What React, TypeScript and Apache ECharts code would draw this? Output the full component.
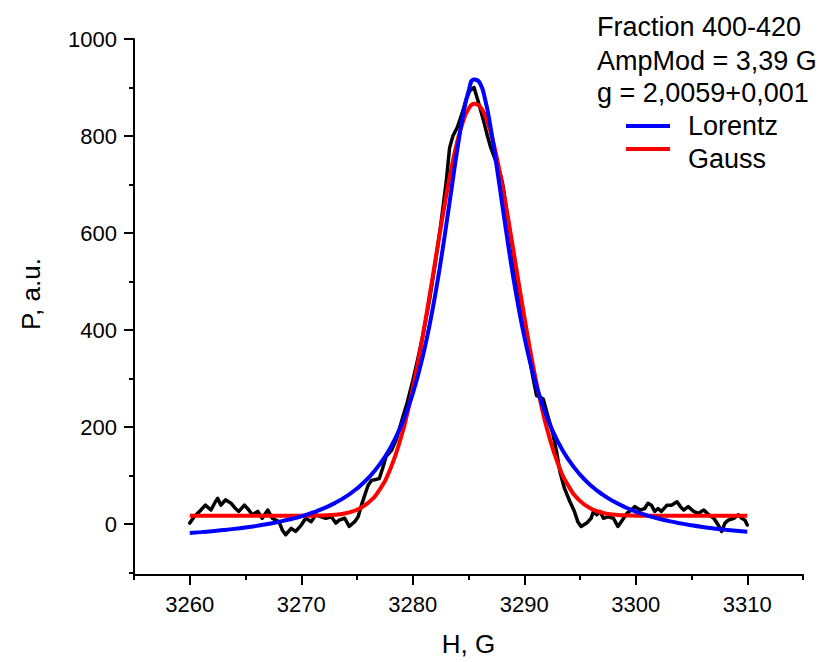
import React, { useEffect, useRef } from 'react';
import * as echarts from 'echarts';

// Experimental spectrum (black)
const dataH = [
  3260.0, 3260.4, 3261.0, 3261.4, 3261.9, 3262.3, 3262.5, 3262.8, 3263.2, 3263.7,
  3264.1, 3264.4, 3264.9, 3265.3, 3265.6, 3266.1, 3266.5, 3267.0, 3267.4, 3268.0,
  3268.3, 3268.6, 3269.1, 3269.5, 3270.0, 3270.4, 3270.9, 3271.3, 3271.8, 3272.2,
  3272.7, 3273.1, 3273.4, 3273.9, 3274.3, 3274.8, 3275.1, 3275.4, 3275.7, 3276.0,
  3276.3, 3276.7, 3277.0, 3277.3, 3277.6, 3278.1, 3278.5, 3279.0, 3279.5, 3280.0,
  3280.5, 3281.0, 3281.5, 3282.0, 3282.5, 3283.0, 3283.3, 3283.6, 3284.0, 3284.4,
  3284.8, 3285.1, 3285.5, 3286.0, 3286.4, 3286.7, 3287.0, 3287.5, 3287.9, 3288.1,
  3288.4, 3288.8, 3289.2, 3289.6, 3290.0, 3290.4, 3290.8, 3291.1, 3291.4, 3291.7,
  3292.1, 3292.6, 3292.9, 3293.2, 3293.6, 3294.1, 3294.5, 3294.8, 3295.1, 3295.6,
  3296.0, 3296.2, 3296.5, 3296.8, 3297.1, 3297.5, 3298.0, 3298.4, 3298.7, 3299.2,
  3299.6, 3299.9, 3300.4, 3300.8, 3301.1, 3301.4, 3301.7, 3302.0, 3302.3, 3302.8,
  3303.2, 3303.7, 3304.0, 3304.3, 3304.7, 3305.2, 3305.6, 3306.1, 3306.5, 3307.0,
  3307.4, 3307.7, 3308.0, 3308.3, 3308.8, 3309.2, 3309.5, 3309.8, 3310.0,
];
const dataP = [
  2, 15, 29, 39, 29, 46, 53, 39, 50, 43,
  32, 26, 39, 29, 19, 26, 12, 29, 12, 5,
  -12, -22, -9, -15, -2, 12, 5, 19, 15, 12,
  15, 2, 8, 12, -5, 5, 15, 39, 60, 80,
  90, 92, 94, 115, 139, 152, 173, 212, 250, 295,
  345, 400, 462, 535, 615, 705, 775, 800, 818, 845,
  875, 893, 900, 861, 827, 800, 776, 745, 718, 697,
  649, 590, 525, 465, 405, 350, 300, 265, 262, 258,
  224, 183, 149, 108, 74, 46, 26, 5, -5, 2,
  12, 26, 19, 26, 12, 15, 12, -5, 5, 22,
  29, 36, 29, 32, 43, 39, 26, 32, 26, 39,
  39, 46, 36, 29, 36, 26, 22, 29, 20, 12,
  -2, -15, 2, 8, 12, 19, 12, 8, -2,
];

// Fitted curves
const fitH = [
  3260, 3261, 3262, 3263, 3264, 3265, 3266, 3267, 3268, 3269,
  3270, 3271, 3272, 3273, 3274, 3275, 3276, 3277, 3278, 3279,
  3279.5, 3280, 3280.5, 3281, 3281.5, 3282, 3282.5, 3283, 3283.5, 3284,
  3284.5, 3285, 3285.5, 3286, 3286.5, 3287, 3287.5, 3288, 3288.5, 3289,
  3289.5, 3290, 3290.5, 3291, 3291.5, 3292, 3293, 3294, 3295, 3296,
  3297, 3298, 3299, 3300, 3301, 3302, 3303, 3304, 3305, 3306,
  3307, 3308, 3309, 3310,
];
const lorentzP = [
  -18.4, -16.6, -14.6, -12.4, -9.9, -7.0, -3.7, 0.1, 4.6, 9.8,
  16.0, 23.4, 32.3, 43.2, 56.6, 73.3, 94.5, 121.9, 157.6, 205.2,
  234.7, 269.1, 309.1, 355.5, 409.3, 470.7, 539.8, 615.4, 694.7, 772.6,
  841.4, 892.1, 916.6, 910.3, 874.5, 815.5, 742.0, 662.8, 584.5, 511.3,
  445.2, 386.9, 336.2, 292.4, 254.8, 222.4, 170.5, 131.6, 102.0, 79.1,
  61.2, 46.9, 35.3, 25.9, 18.1, 11.6, 6.1, 1.4, -2.6, -6.1,
  -9.1, -11.7, -14.0, -16.0,
];
const gaussP = [
  17, 17, 17, 17, 17, 17, 17, 17, 17, 17,
  17, 17.3, 17.8, 19.2, 22.4, 29.5, 43.7, 70.0, 114.2, 182.7,
  227.4, 279.0, 337.2, 401.2, 469.3, 539.6, 609.5, 676.5, 737.4, 789.1,
  829.3, 855.6, 866.7, 861.9, 841.5, 806.7, 759.3, 701.8, 636.9, 567.8,
  497.2, 428.1, 362.2, 301.5, 247.2, 199.8, 125.9, 77.2, 47.9, 31.7,
  23.5, 19.6, 18.0, 17.4, 17, 17, 17, 17, 17, 17,
  17, 17, 17, 17,
];

const xMajorTicks = [3260, 3270, 3280, 3290, 3300, 3310];
const xMinorTicks = [3255, 3265, 3275, 3285, 3295, 3305, 3315];
const yMajorTicks = [0, 200, 400, 600, 800, 1000];
const yMinorTicks = [-100, 100, 300, 500, 700, 900];
const annotationLines = ['Fraction 400-420', 'AmpMod = 3,39 G', 'g = 2,0059+0,001'];
const legendNames = ['Lorentz', 'Gauss'];

export default function App() {
  const ref = useRef<HTMLDivElement>(null);
  useEffect(() => {
    const chart = echarts.init(ref.current!, null, { renderer: 'svg' });
    const fontFamily = '"Liberation Sans", Arial, sans-serif';
    const X_MIN = 3255, X_MAX = 3315, Y_MIN = -105, Y_MAX = 1000;
    const axisColor = '#000';
    const plain = (v: number) => String(v);

    const majorAxis = (extra: any) => ({
      type: 'value',
      axisLine: { show: true, onZero: false, lineStyle: { color: axisColor, width: 2 } },
      splitLine: { show: false },
      ...extra,
    });
    const minorAxis = (extra: any) => ({
      type: 'value',
      axisLine: { show: false, onZero: false },
      axisLabel: { show: false },
      splitLine: { show: false },
      ...extra,
    });

    const texts: any[] = annotationLines.map((t, i) => ({
      type: 'text',
      x: 597,
      y: [27, 60.5, 93][i],
      style: { text: t, font: `27px ${fontFamily}`, fill: '#000', verticalAlign: 'middle', align: 'left' },
    }));
    const legendColors = ['#0000ff', '#ff0000'];
    const legendLineY = [126, 149];
    const legendTextY = [126, 159];
    legendNames.forEach((n, i) => {
      texts.push({
        type: 'line',
        shape: { x1: 626, y1: legendLineY[i], x2: 670, y2: legendLineY[i] },
        style: { stroke: legendColors[i], lineWidth: 4 },
      });
      texts.push({
        type: 'text',
        x: 688,
        y: legendTextY[i],
        style: { text: n, font: `27px ${fontFamily}`, fill: '#000', verticalAlign: 'middle', align: 'left' },
      });
    });

    chart.setOption({
      animation: false,
      backgroundColor: '#fff',
      textStyle: { fontFamily },
      grid: { left: 134, right: 25, top: 39, bottom: 85, containLabel: false },
      xAxis: [
        majorAxis({
          min: X_MIN, max: X_MAX, position: 'bottom',
          axisTick: { show: true, inside: false, length: 10, customValues: xMajorTicks, lineStyle: { color: axisColor, width: 2 } },
          axisLabel: { show: true, color: '#000', fontSize: 22, fontFamily, margin: 18, customValues: xMajorTicks, formatter: plain },
          name: 'H, G', nameLocation: 'middle', nameGap: 56,
          nameTextStyle: { fontSize: 26, color: '#000', fontFamily },
        }),
        minorAxis({ min: X_MIN, max: X_MAX, position: 'bottom', axisTick: { show: true, inside: false, length: 5, customValues: xMinorTicks, lineStyle: { color: axisColor, width: 2 } } }),
      ],
      yAxis: [
        majorAxis({
          min: Y_MIN, max: Y_MAX, position: 'left',
          axisTick: { show: true, inside: false, length: 10, customValues: yMajorTicks, lineStyle: { color: axisColor, width: 2 } },
          axisLabel: { show: true, color: '#000', fontSize: 22, fontFamily, margin: 17, customValues: yMajorTicks, formatter: plain },
          name: 'P, a.u.', nameLocation: 'middle', nameGap: 90,
          nameTextStyle: { fontSize: 26, color: '#000', fontFamily, padding: [0, 0, 0, 26] },
        }),
        minorAxis({ min: Y_MIN, max: Y_MAX, position: 'left', axisTick: { show: true, inside: false, length: 5, customValues: yMinorTicks, lineStyle: { color: axisColor, width: 2 } } }),
      ],
      series: [
        {
          name: 'Experiment', type: 'line', xAxisIndex: 0, yAxisIndex: 0,
          data: dataH.map((h, i) => [h, dataP[i]]),
          showSymbol: false, symbol: 'none',
          lineStyle: { color: '#000', width: 3.5, join: 'round', cap: 'round' },
          z: 2,
        },
        {
          name: 'Gauss', type: 'line', xAxisIndex: 0, yAxisIndex: 0,
          data: fitH.map((h, i) => [h, gaussP[i]]),
          showSymbol: false, symbol: 'none', smooth: true,
          lineStyle: { color: '#ff0000', width: 4 },
          z: 3,
        },
        {
          name: 'Lorentz', type: 'line', xAxisIndex: 0, yAxisIndex: 0,
          data: fitH.map((h, i) => [h, lorentzP[i]]),
          showSymbol: false, symbol: 'none', smooth: true,
          lineStyle: { color: '#0000ff', width: 4 },
          z: 4,
        },
      ],
      graphic: texts,
    });
    return () => chart.dispose();
  }, []);
  return <div ref={ref} style={{ position: 'fixed', left: 0, top: 0, width: 828, height: 662, background: '#fff' }} />;
}
